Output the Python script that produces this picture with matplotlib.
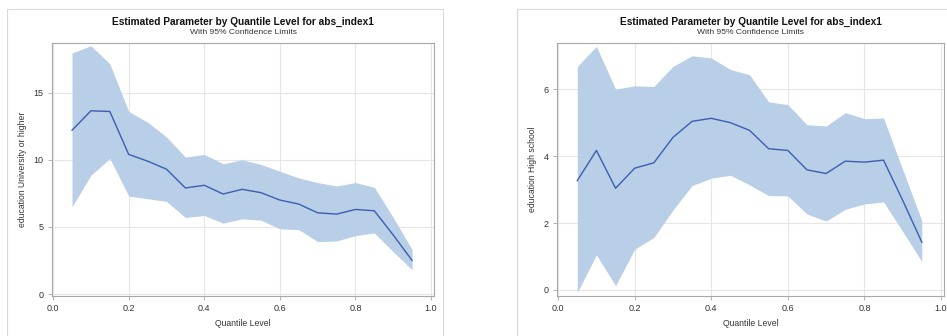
import numpy as np
import matplotlib
matplotlib.use("Agg")
import matplotlib.pyplot as plt
from matplotlib.patches import Rectangle

plt.rcParams['font.family'] = ['Liberation Sans', 'DejaVu Sans']

quantiles = [0.05, 0.10, 0.15, 0.20, 0.25, 0.30, 0.35, 0.40, 0.45, 0.50,
             0.55, 0.60, 0.65, 0.70, 0.75, 0.80, 0.85, 0.90, 0.95]

# education University or higher
uni_est = [12.2, 13.65, 13.6, 10.4, 9.9, 9.3, 7.9, 8.1, 7.45, 7.8,
           7.55, 7.0, 6.7, 6.05, 5.95, 6.3, 6.2, 4.4, 2.5]
uni_upper = [17.95, 18.5, 17.15, 13.6, 12.8, 11.7, 10.2, 10.4, 9.7, 10.0,
             9.65, 9.15, 8.65, 8.3, 8.05, 8.3, 7.95, 5.7, 3.3]
uni_lower = [6.5, 8.85, 10.1, 7.3, 7.1, 6.9, 5.7, 5.85, 5.28, 5.6,
             5.5, 4.85, 4.8, 3.9, 3.95, 4.35, 4.55, 3.15, 1.8]

# education High school
hs_est = [3.27, 4.17, 3.04, 3.64, 3.8, 4.56, 5.04, 5.13, 5.0, 4.77,
          4.22, 4.17, 3.59, 3.48, 3.85, 3.82, 3.88, 2.68, 1.43]
hs_upper = [6.68, 7.28, 6.0, 6.1, 6.08, 6.68, 7.0, 6.93, 6.59, 6.43,
            5.62, 5.54, 4.94, 4.9, 5.3, 5.12, 5.14, 3.6, 2.07]
hs_lower = [-0.07, 1.05, 0.13, 1.22, 1.57, 2.39, 3.12, 3.34, 3.43, 3.14,
            2.82, 2.81, 2.27, 2.06, 2.41, 2.57, 2.63, 1.75, 0.85]

title = "Estimated Parameter by Quantile Level for abs_index1"
subtitle = "With 95% Confidence Limits"

band_color = '#b9cee7'
line_color = '#3a5fb0'
grid_color = '#e6e6e6'
frame_color = '#a8a8a8'

fig = plt.figure(figsize=(9.47, 3.36), dpi=100)

# outer panel borders
fig.patches.append(Rectangle((7 / 947, -0.1), 436 / 947, 1.1 - 9 / 336,
                             transform=fig.transFigure, fill=False,
                             edgecolor='#d9d9d9', linewidth=0.8))
fig.patches.append(Rectangle((517 / 947, -0.1), 0.5, 1.1 - 9 / 336,
                             transform=fig.transFigure, fill=False,
                             edgecolor='#d9d9d9', linewidth=0.8))

panels = [
    ([52 / 947, 0.119, 382 / 947, 0.753], uni_est, uni_lower, uni_upper,
     'education University or higher', (-0.15, 18.7), [0, 5, 10, 15], 27 / 947),
    ([557 / 947, 0.119, 387 / 947, 0.753], hs_est, hs_lower, hs_upper,
     'education High school', (-0.18, 7.38), [0, 2, 4, 6], 537 / 947),
]

for rect, est, lo, hi, ylab, ylim, yticks, ylab_x in panels:
    ax = fig.add_axes(rect)
    ax.fill_between(quantiles, lo, hi, color=band_color, linewidth=0)
    ax.plot(quantiles, est, color=line_color, linewidth=1.0)
    ax.set_xlim(-0.003, 1.008)
    ax.set_ylim(*ylim)
    ax.set_xticks([0.0, 0.2, 0.4, 0.6, 0.8, 1.0])
    ax.set_xticklabels(['0.0', '0.2', '0.4', '0.6', '0.8', '1.0'])
    ax.set_yticks(yticks)
    ax.grid(True, color=grid_color, linewidth=0.8)
    ax.set_axisbelow(True)
    for s in ax.spines.values():
        s.set_color(frame_color)
        s.set_linewidth(0.8)
    ax.tick_params(labelsize=6.5, colors='#333333', length=3, width=0.6,
                   color=frame_color, pad=3)
    ax.set_xlabel('Quantile Level', fontsize=6.2, color='#333333', labelpad=4)
    ax.set_ylabel(ylab, fontsize=6.2, color='#333333')
    ax.yaxis.set_label_coords((ylab_x - rect[0]) / rect[2], 0.5)
    cx = rect[0] + rect[2] / 2
    fig.text(cx, 1 - 22 / 336, title, ha='center', va='center',
             fontsize=7.25, fontweight='bold', color='#111111')
    fig.text(cx, 1 - 33 / 336, subtitle, ha='center', va='center',
             fontsize=6.1, color='#333333')

fig.savefig('out.png', dpi=100)
